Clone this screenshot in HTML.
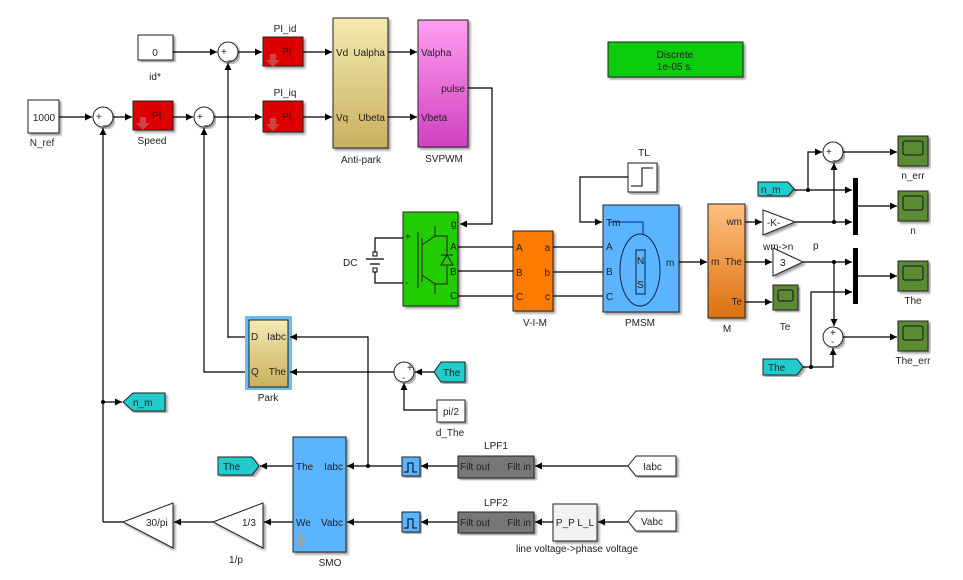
<!DOCTYPE html>
<html><head><meta charset="utf-8"><style>
body{margin:0;background:#fff}
svg{display:block;font-family:"Liberation Sans",sans-serif}
text{font-size:10px;fill:#222}
.l{stroke:#000;stroke-width:1.2;fill:none}
.b{stroke:#222;stroke-width:1}
</style></head><body>
<svg width="963" height="580" viewBox="0 0 963 580">
<defs>
<marker id="a" markerWidth="8" markerHeight="8" refX="7" refY="4" orient="auto" markerUnits="userSpaceOnUse"><path d="M0,0.5 L7,4 L0,7.5z" fill="#000"/></marker>
<linearGradient id="gy" x1="0" x2="0" y1="0" y2="1"><stop offset="0" stop-color="#f5eab0"/><stop offset="1" stop-color="#c8b060"/></linearGradient>
<linearGradient id="gp" x1="0" x2="0" y1="0" y2="1"><stop offset="0" stop-color="#ff9ff0"/><stop offset="1" stop-color="#d040c0"/></linearGradient>
<linearGradient id="go" x1="0" x2="0" y1="0" y2="1"><stop offset="0" stop-color="#ffc080"/><stop offset="1" stop-color="#dd7010"/></linearGradient>
<filter id="s"><feDropShadow dx="2" dy="2" stdDeviation="1.2" flood-opacity="0.4"/></filter>
</defs>

<!-- top row blocks -->
<rect x="138" y="35" width="35" height="25" fill="#fff" class="b" filter="url(#s)"/><text x="155" y="56" text-anchor="middle">0</text>
<text x="155" y="80" text-anchor="middle">id*</text>
<rect x="28" y="100" width="31" height="33" fill="#fff" class="b" filter="url(#s)"/><text x="44" y="121" text-anchor="middle">1000</text>
<text x="42" y="146" text-anchor="middle">N_ref</text>

<circle cx="228" cy="52" r="10" fill="#fff" class="b" filter="url(#s)"/><text x="221" y="55" font-size="8">+</text><text x="228" y="59" font-size="9">_</text>
<circle cx="103" cy="117" r="10" fill="#fff" class="b" filter="url(#s)"/><text x="96" y="120" font-size="8">+</text><text x="103" y="124" font-size="9">_</text>
<circle cx="204" cy="117" r="10" fill="#fff" class="b" filter="url(#s)"/><text x="197" y="120" font-size="8">+</text><text x="204" y="124" font-size="9">_</text>

<g filter="url(#s)">
<rect x="263" y="37" width="40" height="29" fill="#dd0000" class="b"/>
<rect x="263" y="101" width="40" height="31" fill="#dd0000" class="b"/>
<rect x="133" y="101" width="40" height="29" fill="#dd0000" class="b"/>
</g>
<text x="282" y="55">PI</text><text x="282" y="120">PI</text><text x="152" y="119">PI</text>
<path d="M270,54 h6 v6 h4 l-7,7 l-7,-7 h4z" fill="#c44"/><path d="M270,118 h6 v6 h4 l-7,7 l-7,-7 h4z" fill="#c44"/><path d="M140,117 h6 v6 h4 l-7,7 l-7,-7 h4z" fill="#c44"/>
<text x="285" y="32" text-anchor="middle">PI_id</text><text x="285" y="96" text-anchor="middle">PI_iq</text>
<text x="152" y="144" text-anchor="middle">Speed</text>

<rect x="333" y="18" width="55" height="130" fill="url(#gy)" class="b" filter="url(#s)"/>
<text x="336" y="56">Vd</text><text x="336" y="121">Vq</text><text x="385" y="56" text-anchor="end">Ualpha</text><text x="385" y="121" text-anchor="end">Ubeta</text>
<text x="361" y="163" text-anchor="middle">Anti-park</text>
<rect x="418" y="20" width="50" height="127" fill="url(#gp)" class="b" filter="url(#s)"/>
<text x="421" y="56">Valpha</text><text x="465" y="92" text-anchor="end">pulse</text><text x="421" y="121">Vbeta</text>
<text x="444" y="162" text-anchor="middle" font-size="11">SVPWM</text>

<rect x="608" y="42" width="135" height="35" fill="#10cc10" stroke="#222" filter="url(#s)"/>
<text x="675" y="58" text-anchor="middle" fill="#005522">Discrete</text><text x="675" y="70" text-anchor="middle" fill="#005522">1e-05 s.</text>

<!-- top wires -->
<path class="l" d="M173,52 H217" marker-end="url(#a)"/>
<path class="l" d="M238,52 H262" marker-end="url(#a)"/>
<path class="l" d="M303,52 H332" marker-end="url(#a)"/>
<path class="l" d="M388,52 H417" marker-end="url(#a)"/>
<path class="l" d="M59,117 H92" marker-end="url(#a)"/>
<path class="l" d="M113,117 H132" marker-end="url(#a)"/>
<path class="l" d="M173,117 H193" marker-end="url(#a)"/>
<path class="l" d="M214,117 H262" marker-end="url(#a)"/>
<path class="l" d="M303,117 H332" marker-end="url(#a)"/>
<path class="l" d="M388,117 H417" marker-end="url(#a)"/>
<path class="l" d="M468,88 H492 V224 H460" marker-end="url(#a)"/>
<path class="l" d="M228,338 V63" marker-end="url(#a)"/>
<path class="l" d="M247,337 H228"/>
<path class="l" d="M247,372 H204 V128" marker-end="url(#a)"/>
<path class="l" d="M103,522 V128" marker-end="url(#a)"/>
<circle cx="103" cy="402" r="2" fill="#000"/>
<path class="l" d="M103,402 H122" marker-end="url(#a)"/>
<path d="M123,402 l10,-9 h32 v18 h-32z" fill="#22cccc" stroke="#222" filter="url(#s)"/><text x="133" y="406">n_m</text>

<!-- power stage -->
<rect x="403" y="212" width="55" height="94" fill="#22cc00" class="b" filter="url(#s)"/>
<g stroke="#222" fill="none"><path d="M418,232 V288 M422,238 V282 M422,245 L435,236 V226 M422,275 L435,284 V294 M435,236 H447 V254 M435,284 H447 V266"/><path d="M441,265 h12 l-6,-10z"/><path d="M441,255 h12"/></g>
<text x="451" y="227" fill="#114">g</text><text x="450" y="250">A</text><text x="450" y="275">B</text><text x="450" y="299">C</text>
<text x="405" y="240" font-size="8">+</text><text x="405" y="286" font-size="8">-</text>
<path class="l" d="M403,238 H375 V255 M403,283 H375 V271 M366,259 h18 M370,264 h10"/>
<rect x="373" y="252" width="4" height="4" fill="#fff" stroke="#000"/><rect x="373" y="268" width="4" height="4" fill="#fff" stroke="#000"/>
<text x="343" y="266">DC</text>

<rect x="513" y="231" width="40" height="80" fill="#ff7a00" class="b" filter="url(#s)"/>
<text x="516" y="251" font-size="11">A</text><text x="516" y="276" font-size="11">B</text><text x="516" y="300" font-size="11">C</text>
<text x="550" y="251" text-anchor="end" font-size="11">a</text><text x="550" y="276" text-anchor="end" font-size="11">b</text><text x="550" y="300" text-anchor="end" font-size="11">c</text>
<text x="535" y="326" text-anchor="middle">V-I-M</text>

<path class="l" d="M458,247 H513 M458,271 H513 M458,296 H513 M553,247 H603 M553,272 H603 M553,296 H603"/>

<rect x="603" y="205" width="76" height="107" fill="#5ab4ff" class="b" filter="url(#s)"/>
<ellipse cx="640" cy="270" rx="20" ry="36" fill="none" stroke="#124"/>
<rect x="636" y="250" width="9" height="44" fill="none" stroke="#124"/>
<text x="637" y="264" font-size="9">N</text><text x="637" y="288" font-size="9">S</text>
<path d="M609,222 H643 V234" stroke="#0022aa" fill="none"/>
<text x="606" y="226" fill="#0022aa">Tm</text><text x="606" y="250">A</text><text x="606" y="275">B</text><text x="606" y="300">C</text><text x="666" y="266">m</text>
<text x="640" y="326" text-anchor="middle">PMSM</text>
<rect x="628" y="163" width="29" height="29" fill="#fff" class="b" filter="url(#s)"/>
<path d="M631,186 H642 V168 H653" stroke="#000" fill="none"/>
<text x="644" y="156" text-anchor="middle">TL</text>
<path class="l" d="M628,177 H580 V222 H602" marker-end="url(#a)"/>
<path class="l" d="M679,262 H707" marker-end="url(#a)"/>

<rect x="708" y="204" width="37" height="114" fill="url(#go)" class="b" filter="url(#s)"/>
<text x="742" y="225" text-anchor="end">wm</text><text x="711" y="265">m</text><text x="742" y="265" text-anchor="end">The</text><text x="742" y="305" text-anchor="end">Te</text>
<text x="727" y="332" text-anchor="middle">M</text>

<!-- right side -->
<path d="M763,210 L795,222 L763,235z" fill="#fff" class="b" filter="url(#s)"/><text x="767" y="226">-K-</text>
<text x="763" y="250">wm-&gt;n</text><text x="813" y="249">p</text>
<path d="M773,248 L803,262 L773,276z" fill="#fff" class="b" filter="url(#s)"/><text x="780" y="266">3</text>
<rect x="773" y="285" width="25" height="25" fill="#5a8a30" class="b" filter="url(#s)"/><rect x="778" y="290" width="15" height="11" rx="2" fill="none" stroke="#112"/>
<text x="785" y="330" text-anchor="middle">Te</text>
<path class="l" d="M745,222 H762" marker-end="url(#a)"/>
<path class="l" d="M745,262 H772" marker-end="url(#a)"/>
<path class="l" d="M745,302 H772" marker-end="url(#a)"/>
<path d="M758,182 h30 l6,7 l-6,7 h-30z" fill="#22cccc" stroke="#222" filter="url(#s)"/><text x="761" y="193">n_m</text>
<circle cx="833" cy="152" r="10" fill="#fff" class="b" filter="url(#s)"/><text x="826" y="155" font-size="8">+</text><text x="833" y="159" font-size="9">_</text>
<path class="l" d="M795,222 H852" marker-end="url(#a)"/>
<path class="l" d="M794,190 H852" marker-end="url(#a)"/>
<path class="l" d="M808,190 V152 H822" marker-end="url(#a)"/>
<circle cx="808" cy="190" r="2" fill="#000"/><circle cx="834" cy="222" r="2" fill="#000"/>
<path class="l" d="M834,222 V163" marker-end="url(#a)"/>
<rect x="853" y="178" width="5" height="57" fill="#000"/>
<rect x="853" y="248" width="5" height="56" fill="#000"/>
<path class="l" d="M803,262 H852" marker-end="url(#a)"/>
<circle cx="834" cy="262" r="2" fill="#000"/>
<path class="l" d="M834,262 V326" marker-end="url(#a)"/>
<circle cx="833" cy="337" r="10" fill="#fff" class="b" filter="url(#s)"/><text x="830" y="336" font-size="8">+</text><text x="831" y="345" font-size="9">-</text>
<path d="M763,359 h34 l6,8 l-6,8 h-34z" fill="#22cccc" stroke="#222" filter="url(#s)"/><text x="768" y="371">The</text>
<path class="l" d="M803,367 H833 V348" marker-end="url(#a)"/>
<circle cx="811" cy="367" r="2" fill="#000"/>
<path class="l" d="M811,367 V292 H852" marker-end="url(#a)"/>
<path class="l" d="M843,152 H897" marker-end="url(#a)"/>
<path class="l" d="M858,206 H897" marker-end="url(#a)"/>
<path class="l" d="M858,276 H897" marker-end="url(#a)"/>
<path class="l" d="M843,337 H897" marker-end="url(#a)"/>
<g filter="url(#s)">
<rect x="898" y="136" width="30" height="30" fill="#5a8a30" class="b"/>
<rect x="898" y="191" width="30" height="30" fill="#5a8a30" class="b"/>
<rect x="898" y="261" width="30" height="30" fill="#5a8a30" class="b"/>
<rect x="898" y="321" width="30" height="30" fill="#5a8a30" class="b"/>
</g>
<g fill="none" stroke="#112"><rect x="903" y="141" width="20" height="14" rx="2"/><rect x="903" y="196" width="20" height="14" rx="2"/><rect x="903" y="266" width="20" height="14" rx="2"/><rect x="903" y="326" width="20" height="14" rx="2"/></g>
<text x="913" y="179" text-anchor="middle">n_err</text><text x="913" y="234" text-anchor="middle">n</text><text x="913" y="304" text-anchor="middle">The</text><text x="913" y="364" text-anchor="middle">The_err</text>

<!-- Park -->
<rect x="245" y="316" width="47" height="74" fill="#6bbcf0"/>
<rect x="249" y="320" width="39" height="67" fill="url(#gy)" class="b"/>
<text x="251" y="340">D</text><text x="251" y="375">Q</text><text x="286" y="340" text-anchor="end">Iabc</text><text x="286" y="375" text-anchor="end">The</text>
<text x="268" y="401" text-anchor="middle">Park</text>
<path class="l" d="M368,466 V337 H290" marker-end="url(#a)"/>
<path class="l" d="M394,372 H290" marker-end="url(#a)"/>
<circle cx="404" cy="372" r="10" fill="#fff" class="b" filter="url(#s)"/><text x="407" y="371" font-size="8">+</text><text x="402" y="381" font-size="9">-</text>
<path d="M465,362 h-24 l-7,10 l7,10 h24z" fill="#22cccc" stroke="#222" filter="url(#s)"/><text x="443" y="376">The</text>
<path class="l" d="M434,372 H415" marker-end="url(#a)"/>
<rect x="437" y="400" width="28" height="22" fill="#fff" class="b" filter="url(#s)"/><text x="451" y="415" text-anchor="middle">pi/2</text>
<text x="450" y="436" text-anchor="middle">d_The</text>
<path class="l" d="M437,410 H404 V383" marker-end="url(#a)"/>

<!-- SMO row -->
<rect x="293" y="437" width="53" height="115" fill="#5ab4ff" class="b" filter="url(#s)"/>
<text x="296" y="470">The</text><text x="296" y="526">We</text><text x="343" y="470" text-anchor="end">Iabc</text><text x="343" y="526" text-anchor="end">Vabc</text>
<path d="M298,534 h6 v7 h4 l-7,7 l-7,-7 h4z" fill="#8ab"/>
<text x="330" y="566" text-anchor="middle">SMO</text>
<path d="M218,457 h34 l7,9 l-7,9 h-34z" fill="#22cccc" stroke="#222" filter="url(#s)"/><text x="223" y="470">The</text>
<path class="l" d="M293,466 H260" marker-end="url(#a)"/>
<path class="l" d="M402,466 H347" marker-end="url(#a)"/>
<circle cx="368" cy="466" r="2" fill="#000"/>
<path class="l" d="M402,522 H347" marker-end="url(#a)"/>
<rect x="402" y="457" width="18" height="19" fill="#5ab4ff" class="b" filter="url(#s)"/><path d="M404,472 h4 v-9 h5 v9 h4" stroke="#000" fill="none"/>
<rect x="402" y="512" width="18" height="20" fill="#5ab4ff" class="b" filter="url(#s)"/><path d="M404,528 h4 v-9 h5 v9 h4" stroke="#000" fill="none"/>
<path class="l" d="M458,466 H421" marker-end="url(#a)"/>
<path class="l" d="M458,522 H421" marker-end="url(#a)"/>
<rect x="458" y="456" width="76" height="22" fill="#777" class="b" filter="url(#s)"/>
<rect x="458" y="512" width="76" height="21" fill="#777" class="b" filter="url(#s)"/>
<text x="460" y="470" fill="#333">Filt out</text><text x="531" y="470" text-anchor="end" fill="#333">Filt in</text>
<text x="460" y="526" fill="#333">Filt out</text><text x="531" y="526" text-anchor="end" fill="#333">Filt in</text>
<text x="496" y="449" text-anchor="middle">LPF1</text><text x="496" y="506" text-anchor="middle">LPF2</text>
<path class="l" d="M628,466 H535" marker-end="url(#a)"/>
<path d="M676,456 h-40 l-8,10 l8,10 h40z" fill="#fff" stroke="#222" filter="url(#s)"/><text x="643" y="470">Iabc</text>
<rect x="553" y="504" width="44" height="37" fill="#f2f2f2" class="b" filter="url(#s)"/><text x="575" y="526" text-anchor="middle" font-size="9">P_P  L_L</text>
<text x="577" y="552" text-anchor="middle">line voltage-&gt;phase voltage</text>
<path class="l" d="M553,522 H535" marker-end="url(#a)"/>
<path class="l" d="M628,522 H598" marker-end="url(#a)"/>
<path d="M676,511 h-40 l-8,10 l8,10 h40z" fill="#fff" stroke="#222" filter="url(#s)"/><text x="641" y="525">Vabc</text>

<path d="M263,503 V548 L213,522z" fill="#fff" class="b" filter="url(#s)"/><text x="242" y="526">1/3</text>
<path d="M173,503 V548 L123,522z" fill="#fff" class="b" filter="url(#s)"/><text x="146" y="526">30/pi</text>
<text x="236" y="563" text-anchor="middle">1/p</text>
<path class="l" d="M293,522 H264" marker-end="url(#a)"/>
<path class="l" d="M213,522 H174" marker-end="url(#a)"/>
<path class="l" d="M123,522 H103"/>
</svg>
</body></html>
